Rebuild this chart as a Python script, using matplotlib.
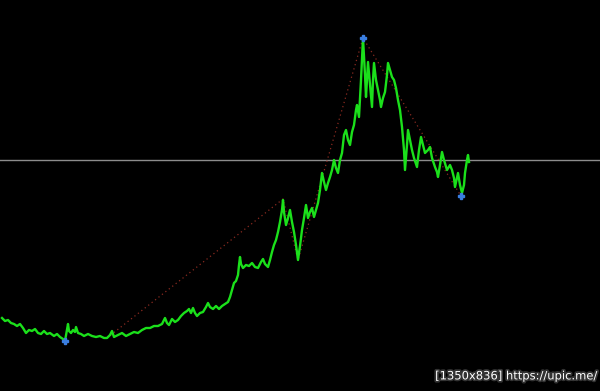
import matplotlib
matplotlib.use("Agg")
import matplotlib.pyplot as plt
import matplotlib.patheffects as pe

# price series (bar number, price)
bars = [2, 5, 8, 11, 14, 17, 20, 23, 26, 29,
        32, 35, 38, 41, 44, 47, 50, 54, 57, 60,
        63, 65, 67, 68, 69, 71, 73, 75, 76, 78,
        81, 84, 88, 92, 96, 100, 104, 107, 110, 112,
        114, 118, 122, 126, 130, 134, 138, 142, 146, 150,
        154, 158, 162, 165, 167, 169, 172, 175, 178, 181,
        184, 187, 189, 191, 193, 195, 197, 200, 203, 206,
        208, 210, 213, 216, 219, 222, 225, 228, 230, 232,
        234, 236, 238, 239, 240, 241, 243, 246, 249, 252,
        255, 258, 261, 263, 265, 268, 270, 272, 274, 276,
        278, 280, 282, 283, 284, 286, 288, 290, 292, 294,
        296, 298, 300, 302, 304, 306, 308, 310, 312, 314,
        316, 318, 320, 322, 324, 326, 328, 330, 332, 334,
        336, 338, 340, 342, 344, 346, 348, 350, 352, 354,
        356, 357, 359, 361, 363, 365, 366, 367, 368, 370,
        372, 373, 374, 376, 378, 380, 381, 383, 385, 387,
        388, 390, 392, 394, 396, 398, 400, 402, 404, 405,
        407, 408, 410, 412, 414, 417, 419, 421, 423, 425,
        428, 430, 432, 435, 437, 438, 440, 442, 444, 447,
        450, 452, 454, 455, 457, 458, 460, 462, 464, 465,
        467, 468, 469]
price = [73, 70, 71, 68, 67, 65, 67, 63, 58, 61,
         60, 62, 58, 57, 60, 57, 58, 55, 57, 54,
         52, 50, 61, 67, 60, 58, 61, 59, 64, 58,
         57, 55, 57, 55, 54, 55, 53, 53, 56, 60,
         54, 56, 58, 55, 57, 59, 58, 61, 63, 63,
         65, 65, 67, 73, 68, 66, 72, 69, 71, 75,
         78, 80, 82, 78, 83, 78, 75, 78, 79, 84,
         88, 84, 82, 85, 82, 85, 87, 89, 94, 101,
         108, 110, 116, 126, 134, 127, 123, 126, 125, 128,
         124, 123, 129, 132, 127, 124, 131, 139, 146, 151,
         159, 169, 181, 191, 179, 166, 173, 181, 169, 159,
         146, 131, 145, 161, 173, 186, 173, 179, 183, 174,
         181, 188, 201, 218, 209, 201, 208, 214, 221, 231,
         223, 218, 231, 238, 256, 261, 251, 246, 259, 266,
         281, 286, 274, 311, 353, 316, 294, 311, 329, 306,
         284, 311, 328, 311, 301, 291, 284, 293, 299, 316,
         328, 321, 314, 311, 303, 291, 281, 264, 241, 221,
         246, 261, 251, 241, 233, 224, 241, 254, 246, 238,
         241, 244, 233, 224, 219, 214, 226, 239, 231, 221,
         226, 221, 213, 204, 213, 218, 206, 198, 206, 218,
         231, 236, 229]

# zigzag swing points
zz_bars = [107, 283, 298, 363, 461]
zz_price = [53, 192, 131, 353, 195]

# arrow marks at extremes
arrow_bars = [65, 363, 461]
arrow_price = [50, 353, 195]

level = 231  # horizontal line

fig = plt.figure(figsize=(6, 3.91), dpi=100, facecolor="black")
ax = fig.add_axes([0, 0, 1, 1])
ax.set_facecolor("black")

ax.axhline(level, color="#8c8c8c", lw=1.0)
ax.plot(zz_bars, zz_price, color="#8a2a20", lw=0.9, ls=(0, (1, 2.5)))
ax.plot(bars, price, color="#1be01b", lw=1.7)
ax.plot(arrow_bars, arrow_price, ls="none", marker="P", ms=5, color="#3a7ee0")

ax.set_xlim(0, 600)
ax.set_ylim(0, 391)
ax.axis("off")

fig.text(0.995, 0.022, "[1350x836] https://upic.me/", color="white", fontsize=8.3,
         ha="right", va="bottom",
         path_effects=[pe.withStroke(linewidth=2.5, foreground="#333333")])

fig.savefig("out.png", dpi=100, facecolor="black")
